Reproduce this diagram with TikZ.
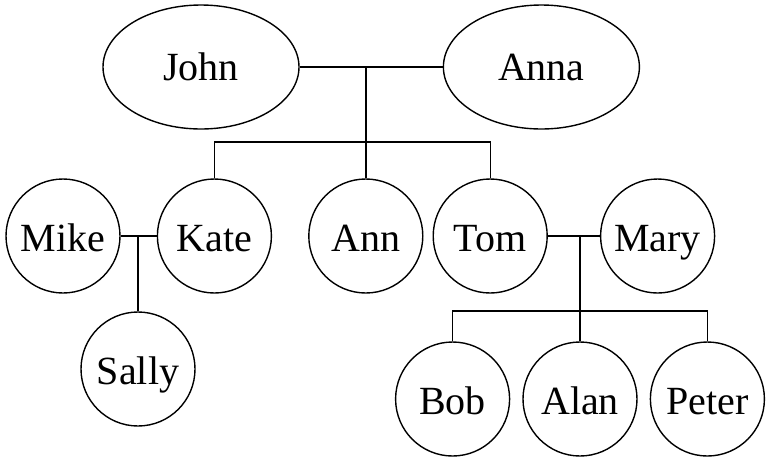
\documentclass[tikz,border=0pt]{standalone}
\usepackage{fontspec}
\setmainfont{Liberation Serif}
\usepackage{tikz}
\usetikzlibrary{positioning,shapes.geometric}

\begin{document}
\begin{tikzpicture}[
    x=1pt, y=-1pt,
    parent/.style={draw=black, ellipse, line width=1.4pt, minimum width=196pt, minimum height=124pt, inner sep=0pt, font=\fontsize{40}{41}\selectfont},
    person/.style={draw=black, circle, line width=1.4pt, minimum size=114pt, inner sep=0pt, text height=30pt, text depth=0pt, font=\fontsize{40}{41}\selectfont},
    link/.style={line width=1.4pt, black}
]
    \useasboundingbox (0,0) rectangle (771,459);

    % Grandparents
    \node[parent] (john) at (201,67) {John};
    \node[parent, right=143pt of john] (anna) {Anna};

    % Children and partners
    \node[person] (mike) at (63,236) {Mike};
    \node[person, right=36pt of mike] (kate) {Kate};
    \node[person, right=36pt of kate] (ann) {Ann};
    \node[person, right=9pt of ann] (tom) {Tom};
    \node[person, right=52pt of tom] (mary) {Mary};

    % Grandchildren
    \node[person] (sally) at (138,369) {Sally};
    \node[person] (alan) at (580,399) {Alan};
    \node[person, left=12pt of alan] (bob) {Bob};
    \node[person, right=12pt of alan] (peter) {Peter};

    % Couples
    \draw[link] (john) -- (anna);
    \draw[link] (mike) -- (kate);
    \draw[link] (tom) -- (mary);

    % Descent lines
    \coordinate (bar1) at (ann.north |- 0,142);
    \coordinate (bar2) at (alan.north |- 0,311);
    \draw[link] (ann.north) -- (ann.north |- john.east);
    \draw[link] (kate.north) |- (bar1) -| (tom.north);
    \draw[link] (sally.north) -- (sally.north |- mike.east);
    \draw[link] (alan.north) -- (alan.north |- tom.east);
    \draw[link] (bob.north) |- (bar2) -| (peter.north);
\end{tikzpicture}
\end{document}
